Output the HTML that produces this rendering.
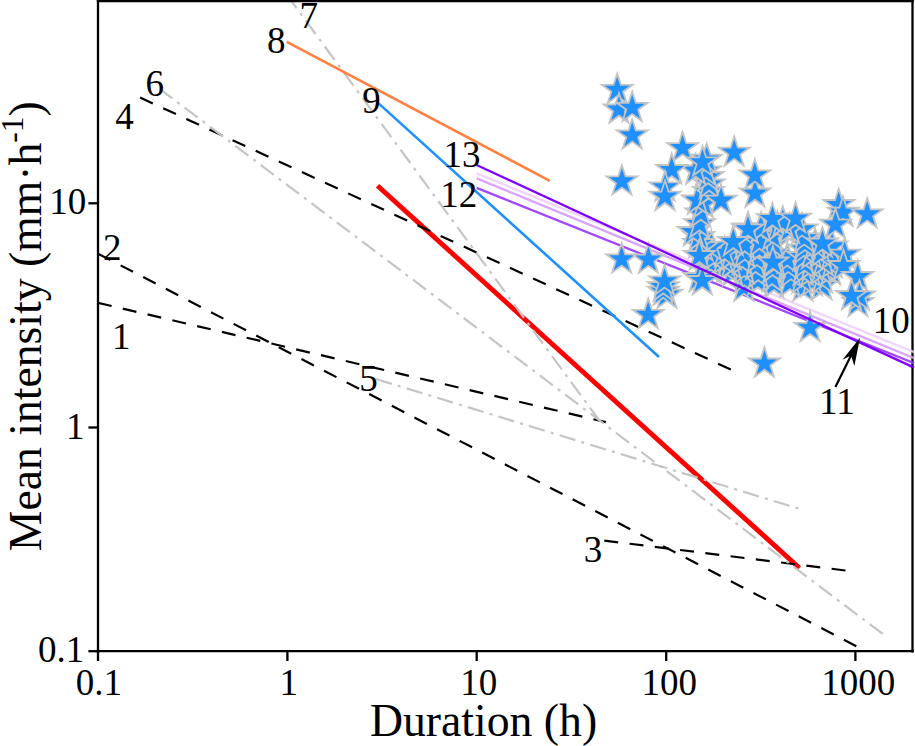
<!DOCTYPE html>
<html><head><meta charset="utf-8"><title>Chart</title>
<style>html,body{margin:0;padding:0;background:#fff}svg{display:block}</style></head>
<body>
<svg width="915" height="746" viewBox="0 0 915 746">
<rect width="915" height="746" fill="#fff"/>
<defs><clipPath id="c"><rect x="98" y="1" width="814.5" height="650.2"/></clipPath></defs>
<g clip-path="url(#c)" fill="none" stroke-linecap="butt">
<path d="M377.5 185.7L799.4 568" stroke="#ff0000" stroke-width="4.9"/>
<path d="M98 302.8L605.8 422.1" stroke="#000" stroke-width="2.2" stroke-dasharray="14 11.45"/>
<path d="M98 253.7L856.8 646.4" stroke="#000" stroke-width="2.2" stroke-dasharray="14 11.45"/>
<path d="M604.3 540.6L856.8 571.9" stroke="#000" stroke-width="2.2" stroke-dasharray="14 11.45"/>
<path d="M140.1 97.6L731 369.6" stroke="#000" stroke-width="2.2" stroke-dasharray="14 11.45"/>
<path d="M376 379L802.5 509.8" stroke="#c5c5c5" stroke-width="2.2" stroke-dasharray="16.5 6.25 3 6.25"/>
<path d="M161 89.8L882.8 634" stroke="#c5c5c5" stroke-width="2.2" stroke-dasharray="16.4 6.2 3 6.18" stroke-dashoffset="2.3"/>
<path d="M290.6 0L599.5 420.7" stroke="#c5c5c5" stroke-width="2.2" stroke-dasharray="16.5 6.25 3 6.25" stroke-dashoffset="6.3"/>
<path d="M286.8 41.8L549.8 180.8" stroke="#ff8040" stroke-width="2.6"/>
<path d="M378.6 103.4L659 357" stroke="#1e90ff" stroke-width="2.6"/>
<path d="M476.6 173.4L913 351.7" stroke="#f0d4ff" stroke-width="2.4"/>
<path d="M476.6 178.3L913 357.7" stroke="#d9a3ff" stroke-width="2.4"/>
<path d="M476.6 187.9L913 362.8" stroke="#a347ff" stroke-width="2.3"/>
</g>
<g fill="#1e90ff" stroke="#c4c4c4" stroke-width="1.8" stroke-linejoin="miter">
<path d="M743.9 271.4L747.5 282.6L759.3 282.6L749.8 289.5L753.4 300.7L743.9 293.8L734.3 300.7L738.0 289.5L728.5 282.6L740.2 282.6Z"/>
<path d="M802.9 271.1L806.5 282.3L818.3 282.3L808.8 289.2L812.4 300.4L802.9 293.5L793.4 300.4L797.0 289.2L787.5 282.3L799.3 282.3Z"/>
<path d="M822.0 269.8L825.7 281.0L837.4 281.0L827.9 287.9L831.6 299.1L822.0 292.2L812.5 299.1L816.1 287.9L806.6 281.0L818.4 281.0Z"/>
<path d="M773.9 267.8L777.5 279.0L789.3 279.0L779.7 285.9L783.4 297.1L773.9 290.2L764.3 297.1L768.0 285.9L758.4 279.0L770.2 279.0Z"/>
<path d="M790.0 266.8L793.6 278.0L805.4 278.0L795.8 284.9L799.5 296.1L790.0 289.2L780.4 296.1L784.1 284.9L774.5 278.0L786.3 278.0Z"/>
<path d="M812.3 265.8L816.0 277.0L827.7 277.0L818.2 283.9L821.9 295.1L812.3 288.2L802.8 295.1L806.4 283.9L796.9 277.0L808.7 277.0Z"/>
<path d="M757.8 264.8L761.5 276.0L773.3 276.0L763.7 282.9L767.4 294.1L757.8 287.2L748.3 294.1L752.0 282.9L742.4 276.0L754.2 276.0Z"/>
<path d="M802.0 263.2L805.6 274.4L817.4 274.4L807.9 281.3L811.5 292.5L802.0 285.6L792.5 292.5L796.1 281.3L786.6 274.4L798.4 274.4Z"/>
<path d="M744.4 262.9L748.0 274.1L759.8 274.1L750.3 281.0L753.9 292.2L744.4 285.3L734.9 292.2L738.5 281.0L729.0 274.1L740.7 274.1Z"/>
<path d="M822.6 262.9L826.2 274.1L838.0 274.1L828.5 281.0L832.1 292.2L822.6 285.3L813.1 292.2L816.7 281.0L807.2 274.1L818.9 274.1Z"/>
<path d="M772.0 261.8L775.6 273.0L787.4 273.0L777.9 279.9L781.5 291.1L772.0 284.2L762.5 291.1L766.1 279.9L756.6 273.0L768.4 273.0Z"/>
<path d="M758.2 257.8L761.9 269.0L773.6 269.0L764.1 275.9L767.7 287.1L758.2 280.2L748.7 287.1L752.3 275.9L742.8 269.0L754.6 269.0Z"/>
<path d="M791.0 256.9L794.6 268.1L806.4 268.1L796.9 275.0L800.5 286.2L791.0 279.3L781.4 286.2L785.1 275.0L775.6 268.1L787.3 268.1Z"/>
<path d="M810.5 256.5L814.2 267.7L826.0 267.7L816.4 274.6L820.1 285.8L810.5 278.9L801.0 285.8L804.7 274.6L795.1 267.7L806.9 267.7Z"/>
<path d="M732.8 255.8L736.5 267.0L748.2 267.0L738.7 273.9L742.3 285.1L732.8 278.2L723.3 285.1L726.9 273.9L717.4 267.0L729.2 267.0Z"/>
<path d="M803.0 255.0L806.7 266.2L818.4 266.2L808.9 273.1L812.5 284.3L803.0 277.4L793.5 284.3L797.1 273.1L787.6 266.2L799.4 266.2Z"/>
<path d="M830.8 254.8L834.4 266.0L846.2 266.0L836.7 272.9L840.3 284.1L830.8 277.2L821.3 284.1L824.9 272.9L815.4 266.0L827.1 266.0Z"/>
<path d="M821.3 254.3L825.0 265.5L836.7 265.5L827.2 272.4L830.8 283.6L821.3 276.7L811.8 283.6L815.4 272.4L805.9 265.5L817.7 265.5Z"/>
<path d="M712.1 253.8L715.7 265.0L727.5 265.0L718.0 271.9L721.6 283.1L712.1 276.2L702.6 283.1L706.2 271.9L696.7 265.0L708.4 265.0Z"/>
<path d="M744.2 253.7L747.9 264.9L759.6 264.9L750.1 271.8L753.7 283.0L744.2 276.1L734.7 283.0L738.3 271.8L728.8 264.9L740.6 264.9Z"/>
<path d="M772.6 252.8L776.3 264.0L788.0 264.0L778.5 270.9L782.2 282.1L772.6 275.2L763.1 282.1L766.7 270.9L757.2 264.0L769.0 264.0Z"/>
<path d="M726.4 251.8L730.1 263.0L741.8 263.0L732.3 269.9L736.0 281.1L726.4 274.2L716.9 281.1L720.5 269.9L711.0 263.0L722.8 263.0Z"/>
<path d="M788.3 249.7L791.9 260.9L803.7 260.9L794.2 267.9L797.8 279.0L788.3 272.1L778.8 279.0L782.4 267.9L772.9 260.9L784.7 260.9Z"/>
<path d="M755.6 249.5L759.2 260.7L771.0 260.7L761.5 267.6L765.1 278.8L755.6 271.9L746.0 278.8L749.7 267.6L740.2 260.7L751.9 260.7Z"/>
<path d="M811.4 249.3L815.0 260.5L826.8 260.5L817.3 267.4L820.9 278.6L811.4 271.7L801.9 278.6L805.5 267.4L796.0 260.5L807.8 260.5Z"/>
<path d="M731.2 248.5L734.9 259.7L746.6 259.7L737.1 266.6L740.7 277.8L731.2 270.9L721.7 277.8L725.3 266.6L715.8 259.7L727.6 259.7Z"/>
<path d="M804.5 248.2L808.1 259.4L819.9 259.4L810.3 266.3L814.0 277.5L804.5 270.6L794.9 277.5L798.6 266.3L789.0 259.4L800.8 259.4Z"/>
<path d="M832.3 247.8L836.0 259.0L847.7 259.0L838.2 265.9L841.9 277.1L832.3 270.2L822.8 277.1L826.4 265.9L816.9 259.0L828.7 259.0Z"/>
<path d="M710.9 247.1L714.5 258.3L726.3 258.3L716.8 265.2L720.4 276.4L710.9 269.5L701.4 276.4L705.0 265.2L695.5 258.3L707.3 258.3Z"/>
<path d="M774.9 246.4L778.6 257.6L790.4 257.6L780.8 264.6L784.5 275.8L774.9 268.8L765.4 275.8L769.1 264.6L759.5 257.6L771.3 257.6Z"/>
<path d="M823.4 245.8L827.0 257.0L838.8 257.0L829.3 263.9L832.9 275.1L823.4 268.2L813.9 275.1L817.5 263.9L808.0 257.0L819.8 257.0Z"/>
<path d="M742.1 244.5L745.7 255.7L757.5 255.7L748.0 262.6L751.6 273.8L742.1 266.9L732.6 273.8L736.2 262.6L726.7 255.7L738.4 255.7Z"/>
<path d="M723.5 243.7L727.2 254.9L738.9 254.9L729.4 261.8L733.1 273.0L723.5 266.1L714.0 273.0L717.6 261.8L708.1 254.9L719.9 254.9Z"/>
<path d="M787.2 243.1L790.9 254.3L802.6 254.3L793.1 261.2L796.8 272.4L787.2 265.5L777.7 272.4L781.3 261.2L771.8 254.3L783.6 254.3Z"/>
<path d="M756.9 242.7L760.5 253.8L772.3 253.8L762.8 260.8L766.4 272.0L756.9 265.0L747.4 272.0L751.0 260.8L741.5 253.8L753.3 253.8Z"/>
<path d="M802.9 240.8L806.6 252.0L818.4 252.0L808.8 258.9L812.5 270.1L802.9 263.2L793.4 270.1L797.1 258.9L787.5 252.0L799.3 252.0Z"/>
<path d="M713.9 240.5L717.6 251.7L729.4 251.7L719.8 258.6L723.5 269.8L713.9 262.9L704.4 269.8L708.1 258.6L698.5 251.7L710.3 251.7Z"/>
<path d="M731.1 239.8L734.8 251.0L746.5 251.0L737.0 257.9L740.7 269.1L731.1 262.2L721.6 269.1L725.2 257.9L715.7 251.0L727.5 251.0Z"/>
<path d="M831.5 239.0L835.2 250.2L846.9 250.2L837.4 257.1L841.0 268.3L831.5 261.4L822.0 268.3L825.6 257.1L816.1 250.2L827.9 250.2Z"/>
<path d="M811.5 238.5L815.1 249.7L826.9 249.7L817.4 256.6L821.0 267.8L811.5 260.9L802.0 267.8L805.6 256.6L796.1 249.7L807.8 249.7Z"/>
<path d="M772.9 237.5L776.5 248.6L788.3 248.6L778.8 255.6L782.4 266.8L772.9 259.8L763.3 266.8L767.0 255.6L757.5 248.6L769.2 248.6Z"/>
<path d="M744.8 237.1L748.5 248.3L760.2 248.3L750.7 255.2L754.4 266.4L744.8 259.5L735.3 266.4L738.9 255.2L729.4 248.3L741.2 248.3Z"/>
<path d="M821.1 236.8L824.7 248.0L836.5 248.0L827.0 255.0L830.6 266.2L821.1 259.2L811.6 266.2L815.2 255.0L805.7 248.0L817.5 248.0Z"/>
<path d="M724.5 236.7L728.1 247.9L739.9 247.9L730.4 254.8L734.0 266.0L724.5 259.1L714.9 266.0L718.6 254.8L709.1 247.9L720.8 247.9Z"/>
<path d="M804.1 233.4L807.8 244.6L819.5 244.6L810.0 251.5L813.6 262.7L804.1 255.8L794.6 262.7L798.2 251.5L788.7 244.6L800.5 244.6Z"/>
<path d="M759.3 233.0L763.0 244.2L774.7 244.2L765.2 251.1L768.9 262.3L759.3 255.4L749.8 262.3L753.4 251.1L743.9 244.2L755.7 244.2Z"/>
<path d="M711.3 230.5L714.9 241.7L726.7 241.7L717.2 248.6L720.8 259.8L711.3 252.9L701.8 259.8L705.4 248.6L695.9 241.7L707.7 241.7Z"/>
<path d="M832.1 230.3L835.8 241.4L847.5 241.4L838.0 248.4L841.7 259.6L832.1 252.6L822.6 259.6L826.2 248.4L816.7 241.4L828.5 241.4Z"/>
<path d="M744.7 229.0L748.3 240.2L760.1 240.2L750.6 247.1L754.2 258.3L744.7 251.4L735.2 258.3L738.8 247.1L729.3 240.2L741.1 240.2Z"/>
<path d="M815.1 228.5L818.8 239.6L830.6 239.6L821.0 246.6L824.7 257.8L815.1 250.8L805.6 257.8L809.3 246.6L799.7 239.6L811.5 239.6Z"/>
<path d="M773.6 228.1L777.3 239.3L789.0 239.3L779.5 246.2L783.1 257.4L773.6 250.5L764.1 257.4L767.7 246.2L758.2 239.3L770.0 239.3Z"/>
<path d="M804.9 227.7L808.6 238.9L820.3 238.9L810.8 245.8L814.4 257.0L804.9 250.0L795.4 257.0L799.0 245.8L789.5 238.9L801.3 238.9Z"/>
<path d="M759.5 226.3L763.1 237.5L774.9 237.5L765.4 244.5L769.0 255.7L759.5 248.7L750.0 255.7L753.6 244.5L744.1 237.5L755.8 237.5Z"/>
<path d="M804.2 222.1L807.9 233.3L819.7 233.3L810.1 240.2L813.8 251.4L804.2 244.5L794.7 251.4L798.4 240.2L788.8 233.3L800.6 233.3Z"/>
<path d="M772.6 219.9L776.3 231.1L788.0 231.1L778.5 238.0L782.1 249.2L772.6 242.3L763.1 249.2L766.7 238.0L757.2 231.1L769.0 231.1Z"/>
<path d="M802.1 213.2L805.7 224.4L817.5 224.4L807.9 231.3L811.6 242.5L802.1 235.6L792.5 242.5L796.2 231.3L786.6 224.4L798.4 224.4Z"/>
<path d="M703.0 230.8L706.6 242.0L718.4 242.0L708.9 248.9L712.5 260.1L703.0 253.2L693.5 260.1L697.1 248.9L687.6 242.0L699.4 242.0Z"/>
<path d="M698.7 227.8L702.3 239.0L714.1 239.0L704.6 245.9L708.2 257.1L698.7 250.2L689.2 257.1L692.8 245.9L683.3 239.0L695.1 239.0Z"/>
<path d="M698.8 220.8L702.4 232.0L714.2 232.0L704.7 238.9L708.3 250.1L698.8 243.2L689.3 250.1L692.9 238.9L683.4 232.0L695.2 232.0Z"/>
<path d="M693.3 215.8L696.9 227.0L708.7 227.0L699.2 233.9L702.8 245.1L693.3 238.2L683.8 245.1L687.4 233.9L677.9 227.0L689.7 227.0Z"/>
<path d="M699.5 208.0L703.1 219.2L714.9 219.2L705.4 226.1L709.0 237.3L699.5 230.4L690.0 237.3L693.6 226.1L684.1 219.2L695.9 219.2Z"/>
<path d="M700.8 197.3L704.4 208.5L716.2 208.5L706.7 215.4L710.3 226.6L700.8 219.7L691.3 226.6L694.9 215.4L685.4 208.5L697.2 208.5Z"/>
<path d="M703.5 187.8L707.1 199.0L718.9 199.0L709.4 205.9L713.0 217.1L703.5 210.2L694.0 217.1L697.6 205.9L688.1 199.0L699.9 199.0Z"/>
<path d="M697.3 184.3L700.9 195.5L712.7 195.5L703.2 202.4L706.8 213.6L697.3 206.7L687.8 213.6L691.4 202.4L681.9 195.5L693.7 195.5Z"/>
<path d="M708.5 175.8L712.1 187.0L723.9 187.0L714.4 193.9L718.0 205.1L708.5 198.2L699.0 205.1L702.6 193.9L693.1 187.0L704.9 187.0Z"/>
<path d="M709.2 168.3L712.8 179.5L724.6 179.5L715.1 186.4L718.7 197.6L709.2 190.7L699.7 197.6L703.3 186.4L693.8 179.5L705.6 179.5Z"/>
<path d="M708.0 160.8L711.6 172.0L723.4 172.0L713.9 178.9L717.5 190.1L708.0 183.2L698.5 190.1L702.1 178.9L692.6 172.0L704.4 172.0Z"/>
<path d="M705.5 155.1L709.1 166.3L720.9 166.3L711.4 173.2L715.0 184.4L705.5 177.5L696.0 184.4L699.6 173.2L690.1 166.3L701.9 166.3Z"/>
<path d="M617.2 73.6L620.8 84.8L632.6 84.8L623.1 91.7L626.7 102.9L617.2 96.0L607.7 102.9L611.3 91.7L601.8 84.8L613.6 84.8Z"/>
<path d="M619.0 93.3L622.6 104.5L634.4 104.5L624.9 111.4L628.5 122.6L619.0 115.7L609.5 122.6L613.1 111.4L603.6 104.5L615.4 104.5Z"/>
<path d="M632.2 91.6L635.8 102.8L647.6 102.8L638.1 109.7L641.7 120.9L632.2 114.0L622.7 120.9L626.3 109.7L616.8 102.8L628.6 102.8Z"/>
<path d="M632.2 119.2L635.8 130.4L647.6 130.4L638.1 137.3L641.7 148.5L632.2 141.6L622.7 148.5L626.3 137.3L616.8 130.4L628.6 130.4Z"/>
<path d="M621.9 165.2L625.5 176.4L637.3 176.4L627.8 183.3L631.4 194.5L621.9 187.6L612.4 194.5L616.0 183.3L606.5 176.4L618.3 176.4Z"/>
<path d="M695.6 154.3L699.2 165.5L711.0 165.5L701.5 172.4L705.1 183.6L695.6 176.7L686.1 183.6L689.7 172.4L680.2 165.5L692.0 165.5Z"/>
<path d="M706.7 143.4L710.3 154.6L722.1 154.6L712.6 161.5L716.2 172.7L706.7 165.8L697.2 172.7L700.8 161.5L691.3 154.6L703.1 154.6Z"/>
<path d="M682.6 131.9L686.2 143.1L698.0 143.1L688.5 150.0L692.1 161.2L682.6 154.3L673.1 161.2L676.7 150.0L667.2 143.1L679.0 143.1Z"/>
<path d="M671.7 153.8L675.3 165.0L687.1 165.0L677.6 171.9L681.2 183.1L671.7 176.2L662.2 183.1L665.8 171.9L656.3 165.0L668.1 165.0Z"/>
<path d="M702.5 146.1L706.1 157.3L717.9 157.3L708.4 164.2L712.0 175.4L702.5 168.5L693.0 175.4L696.6 164.2L687.1 157.3L698.9 157.3Z"/>
<path d="M734.2 136.4L737.8 147.6L749.6 147.6L740.1 154.5L743.7 165.7L734.2 158.8L724.7 165.7L728.3 154.5L718.8 147.6L730.6 147.6Z"/>
<path d="M755.0 177.3L758.6 188.5L770.4 188.5L760.9 195.4L764.5 206.6L755.0 199.7L745.5 206.6L749.1 195.4L739.6 188.5L751.4 188.5Z"/>
<path d="M754.8 159.2L758.4 170.4L770.2 170.4L760.7 177.3L764.3 188.5L754.8 181.6L745.3 188.5L748.9 177.3L739.4 170.4L751.2 170.4Z"/>
<path d="M665.0 171.2L668.6 182.4L680.4 182.4L670.9 189.3L674.5 200.5L665.0 193.6L655.5 200.5L659.1 189.3L649.6 182.4L661.4 182.4Z"/>
<path d="M665.0 180.5L668.6 191.7L680.4 191.7L670.9 198.6L674.5 209.8L665.0 202.9L655.5 209.8L659.1 198.6L649.6 191.7L661.4 191.7Z"/>
<path d="M721.0 184.4L724.6 195.6L736.4 195.6L726.9 202.5L730.5 213.7L721.0 206.8L711.5 213.7L715.1 202.5L705.6 195.6L717.4 195.6Z"/>
<path d="M621.6 243.1L625.2 254.3L637.0 254.3L627.5 261.2L631.1 272.4L621.6 265.5L612.1 272.4L615.7 261.2L606.2 254.3L618.0 254.3Z"/>
<path d="M648.4 243.4L652.0 254.6L663.8 254.6L654.3 261.5L657.9 272.7L648.4 265.8L638.9 272.7L642.5 261.5L633.0 254.6L644.8 254.6Z"/>
<path d="M667.0 278.4L670.6 289.6L682.4 289.6L672.9 296.5L676.5 307.7L667.0 300.8L657.5 307.7L661.1 296.5L651.6 289.6L663.4 289.6Z"/>
<path d="M663.2 275.4L666.8 286.6L678.6 286.6L669.1 293.5L672.7 304.7L663.2 297.8L653.7 304.7L657.3 293.5L647.8 286.6L659.6 286.6Z"/>
<path d="M663.2 271.0L666.8 282.2L678.6 282.2L669.1 289.1L672.7 300.3L663.2 293.4L653.7 300.3L657.3 289.1L647.8 282.2L659.6 282.2Z"/>
<path d="M664.5 265.1L668.1 276.3L679.9 276.3L670.4 283.2L674.0 294.4L664.5 287.5L655.0 294.4L658.6 283.2L649.1 276.3L660.9 276.3Z"/>
<path d="M648.2 298.6L651.8 309.8L663.6 309.8L654.1 316.7L657.7 327.9L648.2 321.0L638.7 327.9L642.3 316.7L632.8 309.8L644.6 309.8Z"/>
<path d="M699.0 261.8L702.6 273.0L714.4 273.0L704.9 279.9L708.5 291.1L699.0 284.2L689.5 291.1L693.1 279.9L683.6 273.0L695.4 273.0Z"/>
<path d="M702.3 264.8L705.9 276.0L717.7 276.0L708.2 282.9L711.8 294.1L702.3 287.2L692.8 294.1L696.4 282.9L686.9 276.0L698.7 276.0Z"/>
<path d="M699.3 239.8L702.9 251.0L714.7 251.0L705.2 257.9L708.8 269.1L699.3 262.2L689.8 269.1L693.4 257.9L683.9 251.0L695.7 251.0Z"/>
<path d="M764.4 347.3L768.0 358.5L779.8 358.5L770.3 365.4L773.9 376.6L764.4 369.7L754.9 376.6L758.5 365.4L749.0 358.5L760.8 358.5Z"/>
<path d="M810.0 311.6L813.6 322.8L825.4 322.8L815.9 329.7L819.5 340.9L810.0 334.0L800.5 340.9L804.1 329.7L794.6 322.8L806.4 322.8Z"/>
<path d="M777.5 211.3L781.1 222.5L792.9 222.5L783.4 229.4L787.0 240.6L777.5 233.7L768.0 240.6L771.6 229.4L762.1 222.5L773.9 222.5Z"/>
<path d="M789.5 213.3L793.1 224.5L804.9 224.5L795.4 231.4L799.0 242.6L789.5 235.7L780.0 242.6L783.6 231.4L774.1 224.5L785.9 224.5Z"/>
<path d="M748.0 212.3L751.6 223.5L763.4 223.5L753.9 230.4L757.5 241.6L748.0 234.7L738.5 241.6L742.1 230.4L732.6 223.5L744.4 223.5Z"/>
<path d="M761.0 212.3L764.6 223.5L776.4 223.5L766.9 230.4L770.5 241.6L761.0 234.7L751.5 241.6L755.1 230.4L745.6 223.5L757.4 223.5Z"/>
<path d="M782.8 206.3L786.4 217.5L798.2 217.5L788.7 224.4L792.3 235.6L782.8 228.7L773.3 235.6L776.9 224.4L767.4 217.5L779.2 217.5Z"/>
<path d="M772.4 203.0L776.0 214.2L787.8 214.2L778.3 221.1L781.9 232.3L772.4 225.4L762.9 232.3L766.5 221.1L757.0 214.2L768.8 214.2Z"/>
<path d="M795.6 202.5L799.2 213.7L811.0 213.7L801.5 220.6L805.1 231.8L795.6 224.9L786.1 231.8L789.7 220.6L780.2 213.7L792.0 213.7Z"/>
<path d="M748.0 213.1L751.6 224.3L763.4 224.3L753.9 231.2L757.5 242.4L748.0 235.5L738.5 242.4L742.1 231.2L732.6 224.3L744.4 224.3Z"/>
<path d="M733.3 225.8L736.9 237.0L748.7 237.0L739.2 243.9L742.8 255.1L733.3 248.2L723.8 255.1L727.4 243.9L717.9 237.0L729.7 237.0Z"/>
<path d="M772.9 246.3L776.5 257.5L788.3 257.5L778.8 264.4L782.4 275.6L772.9 268.7L763.4 275.6L767.0 264.4L757.5 257.5L769.3 257.5Z"/>
<path d="M838.7 188.8L842.3 200.0L854.1 200.0L844.6 206.9L848.2 218.1L838.7 211.2L829.2 218.1L832.8 206.9L823.3 200.0L835.1 200.0Z"/>
<path d="M843.0 196.4L846.6 207.6L858.4 207.6L848.9 214.5L852.5 225.7L843.0 218.8L833.5 225.7L837.1 214.5L827.6 207.6L839.4 207.6Z"/>
<path d="M835.4 208.4L839.0 219.6L850.8 219.6L841.3 226.5L844.9 237.7L835.4 230.8L825.9 237.7L829.5 226.5L820.0 219.6L831.8 219.6Z"/>
<path d="M867.2 198.2L870.8 209.4L882.6 209.4L873.1 216.3L876.7 227.5L867.2 220.6L857.7 227.5L861.3 216.3L851.8 209.4L863.6 209.4Z"/>
<path d="M844.7 238.5L848.3 249.7L860.1 249.7L850.6 256.6L854.2 267.8L844.7 260.9L835.2 267.8L838.8 256.6L829.3 249.7L841.1 249.7Z"/>
<path d="M843.5 249.8L847.1 261.0L858.9 261.0L849.4 267.9L853.0 279.1L843.5 272.2L834.0 279.1L837.6 267.9L828.1 261.0L839.9 261.0Z"/>
<path d="M857.7 260.8L861.3 272.0L873.1 272.0L863.6 278.9L867.2 290.1L857.7 283.2L848.2 290.1L851.8 278.9L842.3 272.0L854.1 272.0Z"/>
<path d="M822.4 227.3L826.0 238.5L837.8 238.5L828.3 245.4L831.9 256.6L822.4 249.7L812.9 256.6L816.5 245.4L807.0 238.5L818.8 238.5Z"/>
<path d="M858.0 286.6L861.6 297.8L873.4 297.8L863.9 304.7L867.5 315.9L858.0 309.0L848.5 315.9L852.1 304.7L842.6 297.8L854.4 297.8Z"/>
<path d="M859.4 280.1L863.0 291.3L874.8 291.3L865.3 298.2L868.9 309.4L859.4 302.5L849.9 309.4L853.5 298.2L844.0 291.3L855.8 291.3Z"/>
<path d="M851.5 279.8L855.1 291.0L866.9 291.0L857.4 297.9L861.0 309.1L851.5 302.2L842.0 309.1L845.6 297.9L836.1 291.0L847.9 291.0Z"/>
</g>
<g clip-path="url(#c)" fill="none">
<path d="M476.6 165.0L913 367.1" stroke="#7f00ff" stroke-width="2.3"/>
</g>
<path d="M835.4 387.1L852 353.5" stroke="#000" stroke-width="2.2" fill="none"/>
<path d="M860 337.7L854.4 366L851 355.6L842.5 359.8Z" fill="#000"/>
<g stroke="#000" stroke-width="2.3" fill="none">
<path d="M98 0V652.4"/>
<path d="M96.8 651.2H913.7"/>
<path d="M912.5 0V652.4"/>
<path d="M96.8 1.2H913.7"/>
<path d="M98 651.2V661"/>
<path d="M287.4 651.2V661"/>
<path d="M476.7 651.2V661"/>
<path d="M666.2 651.2V661"/>
<path d="M855.4 651.2V661"/>
<path d="M88.4 203.3H98"/>
<path d="M88.4 427.5H98"/>
<path d="M88.4 651.2H98"/>
</g>
<g fill="none" opacity="0.85">
<path d="M910.5 350.68L914.2 352.19" stroke="#f0d4ff" stroke-width="2.4"/>
<path d="M910.5 356.67L914.2 358.19" stroke="#d9a3ff" stroke-width="2.4"/>
<path d="M910.5 361.8L914.2 363.28" stroke="#a347ff" stroke-width="2.3"/>
<path d="M910.5 365.94L914.2 367.66" stroke="#7f00ff" stroke-width="2.3"/>
</g>
<g font-family="'Liberation Serif', serif" fill="#000">
<g font-size="37">
<text x="75.81" y="694.80">0.1</text>
<text x="279.55" y="695.00">1</text>
<text x="460.16" y="694.92">10</text>
<text x="641.51" y="694.92">100</text>
<text x="821.36" y="694.92">1000</text>
<text x="49.16" y="214.43">10</text>
<text x="66.05" y="438.60">1</text>
<text x="37.91" y="662.30">0.1</text>
<text x="299.46" y="28.30">7</text>
<text x="267.05" y="52.62">8</text>
<text x="362.34" y="113.12">9</text>
<text x="115.19" y="128.80">4</text>
<text x="145.50" y="96.42">6</text>
<text x="102.94" y="259.80">2</text>
<text x="112.05" y="348.60">1</text>
<text x="359.18" y="390.82">5</text>
<text x="583.76" y="561.92">3</text>
<text x="872.76" y="332.82">10</text>
<text x="819.09" y="414.30">11</text>
<text x="443.56" y="166.53">13</text>
<text x="440.18" y="207.40">12</text>
</g>
<text x="483.6" y="736.2" font-size="45.7" text-anchor="middle">Duration (h)</text>
<text transform="translate(41 326.2) rotate(-90)" font-size="45.7" text-anchor="middle">Mean intensity (mm·h<tspan font-size="31.5" dy="-18.1">-1</tspan><tspan dy="18.1">)</tspan></text>
</g>
</svg>
</body></html>
